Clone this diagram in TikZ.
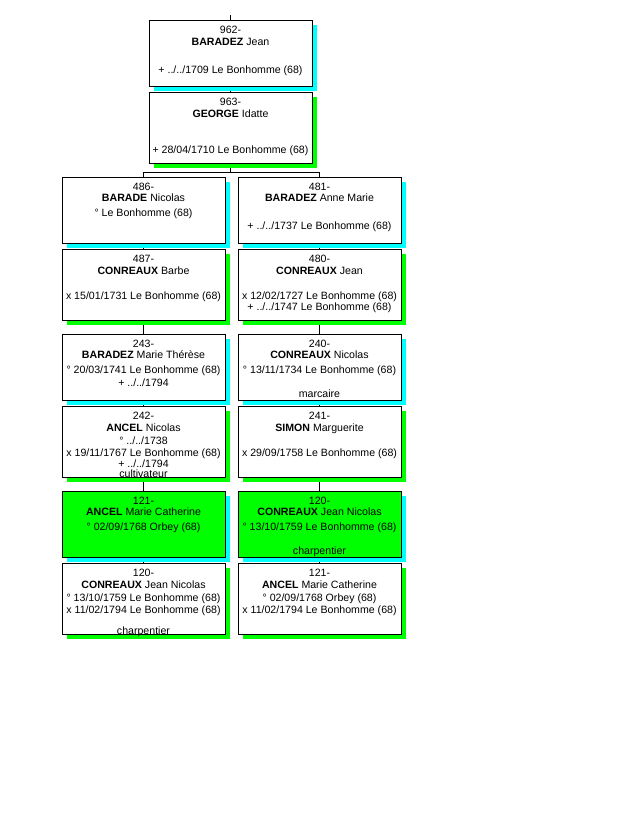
\documentclass[tikz,border=0pt]{standalone}
\usepackage{fontspec}
\setmainfont{Liberation Sans}
\usetikzlibrary{shadows,calc}
\definecolor{shcyan}{HTML}{00FFFF}
\definecolor{shgreen}{HTML}{00FF00}
\tikzset{
  pbox/.style={draw=black, line width=1pt, fill=white, anchor=north west,
    minimum width=163pt, inner sep=0pt, outer sep=0pt},
  tbox/.style={pbox, minimum height=66pt},
  bbox/.style={pbox, minimum height=71pt},
  cyansh/.style={general shadow={fill=shcyan, draw=none, shadow xshift=4.5pt, shadow yshift=-4.5pt}},
  greensh/.style={general shadow={fill=shgreen, draw=none, shadow xshift=4.5pt, shadow yshift=-4.5pt}},
  hl/.style={fill=shgreen},
  txt/.style={font=\fontsize{10.6pt}{12pt}\selectfont, inner sep=0pt, anchor=mid},
  conn/.style={draw=black, line width=1pt}
}
\newcommand\pline[4]{\node[txt] (#1) at ([yshift=-#3pt-1.8pt]#2.north) {#4};}
\begin{document}
\begin{tikzpicture}[x=1pt,y=-1pt]
\useasboundingbox (0,0) rectangle (628,822);
% boxes positions (coordinates only for connectors first)
\path (149,20) node[tbox, draw=none, fill=none] (p962) {};
\path (149,92) node[bbox, draw=none, fill=none] (p963) {};
\path (62,177) node[tbox, draw=none, fill=none] (p486) {};
\path (238,177) node[tbox, draw=none, fill=none] (p481) {};
\path (62,563) node[bbox, draw=none, fill=none] (p120b) {};
\path (238,563) node[bbox, draw=none, fill=none] (p121b) {};
% connector coordinates
\coordinate (top) at ([yshift=5pt]p962.north);
\coordinate (j1) at ($(p963.south)+(0,9.5)$);
% connectors
\draw[conn] (top) -- (p962.north);
\draw[conn] (p962.center) -- (p963.center);
\draw[conn] (p963.center) -- (j1);
\draw[conn] (j1) -| (p486.north);
\draw[conn] (j1) -| (p481.north);
\draw[conn] (p486.center) -- (p120b.center);
\draw[conn] (p481.center) -- (p121b.center);
% boxes
\node[tbox, cyansh] (b962) at (149,20) {};
\node[bbox, greensh] (b963) at (149,92) {};
\node[tbox, cyansh] (b486) at (62,177) {};
\node[tbox, cyansh] (b481) at (238,177) {};
\node[bbox, greensh] (b487) at (62,249) {};
\node[bbox, greensh] (b480) at (238,249) {};
\node[tbox, cyansh] (b243) at (62,334) {};
\node[tbox, cyansh] (b240) at (238,334) {};
\node[bbox, greensh] (b242) at (62,406) {};
\node[bbox, greensh] (b241) at (238,406) {};
\node[tbox, cyansh, hl] (b121) at (62,491) {};
\node[tbox, cyansh, hl] (b120) at (238,491) {};
\node[bbox, greensh] (b120b) at (62,563) {};
\node[bbox, greensh] (b121b) at (238,563) {};
% texts
\pline{t962a}{b962}{9}{962-}
\pline{t962b}{b962}{21}{\textbf{BARADEZ} Jean}
\pline{t962c}{b962}{49}{+ ../../1709 Le Bonhomme (68)}
\pline{t963a}{b963}{9}{963-}
\pline{t963b}{b963}{21}{\textbf{GEORGE} Idatte}
\pline{t963c}{b963}{57}{+ 28/04/1710 Le Bonhomme (68)}
\pline{t486a}{b486}{9}{486-}
\pline{t486b}{b486}{20}{\textbf{BARADE} Nicolas}
\pline{t486c}{b486}{35}{° Le Bonhomme (68)}
\pline{t481a}{b481}{9}{481-}
\pline{t481b}{b481}{20}{\textbf{BARADEZ} Anne Marie}
\pline{t481c}{b481}{48}{+ ../../1737 Le Bonhomme (68)}
\pline{t487a}{b487}{9}{487-}
\pline{t487b}{b487}{21}{\textbf{CONREAUX} Barbe}
\pline{t487c}{b487}{46}{x 15/01/1731 Le Bonhomme (68)}
\pline{t480a}{b480}{9}{480-}
\pline{t480b}{b480}{21}{\textbf{CONREAUX} Jean}
\pline{t480c}{b480}{46}{x 12/02/1727 Le Bonhomme (68)}
\pline{t480d}{b480}{57}{+ ../../1747 Le Bonhomme (68)}
\pline{t243a}{b243}{9}{243-}
\pline{t243b}{b243}{20}{\textbf{BARADEZ} Marie Thérèse}
\pline{t243c}{b243}{35}{° 20/03/1741 Le Bonhomme (68)}
\pline{t243d}{b243}{48}{+ ../../1794}
\pline{t240a}{b240}{9}{240-}
\pline{t240b}{b240}{20}{\textbf{CONREAUX} Nicolas}
\pline{t240c}{b240}{35}{° 13/11/1734 Le Bonhomme (68)}
\pline{t240d}{b240}{59}{marcaire}
\pline{t242a}{b242}{9}{242-}
\pline{t242b}{b242}{21}{\textbf{ANCEL} Nicolas}
\pline{t242c}{b242}{34}{° ../../1738}
\pline{t242d}{b242}{46}{x 19/11/1767 Le Bonhomme (68)}
\pline{t242e}{b242}{57}{+ ../../1794}
\pline{t242f}{b242}{67}{cultivateur}
\pline{t241a}{b241}{9}{241-}
\pline{t241b}{b241}{21}{\textbf{SIMON} Marguerite}
\pline{t241c}{b241}{46}{x 29/09/1758 Le Bonhomme (68)}
\pline{t121a}{b121}{9}{121-}
\pline{t121b}{b121}{20}{\textbf{ANCEL} Marie Catherine}
\pline{t121c}{b121}{35}{° 02/09/1768 Orbey (68)}
\pline{t120a}{b120}{9}{120-}
\pline{t120b}{b120}{20}{\textbf{CONREAUX} Jean Nicolas}
\pline{t120c}{b120}{35}{° 13/10/1759 Le Bonhomme (68)}
\pline{t120d}{b120}{59}{charpentier}
\pline{t120ba}{b120b}{9}{120-}
\pline{t120bb}{b120b}{21}{\textbf{CONREAUX} Jean Nicolas}
\pline{t120bc}{b120b}{34}{° 13/10/1759 Le Bonhomme (68)}
\pline{t120bd}{b120b}{46}{x 11/02/1794 Le Bonhomme (68)}
\pline{t120be}{b120b}{67}{charpentier}
\pline{t121ba}{b121b}{9}{121-}
\pline{t121bb}{b121b}{21}{\textbf{ANCEL} Marie Catherine}
\pline{t121bc}{b121b}{34}{° 02/09/1768 Orbey (68)}
\pline{t121bd}{b121b}{46}{x 11/02/1794 Le Bonhomme (68)}
\end{tikzpicture}
\end{document}
